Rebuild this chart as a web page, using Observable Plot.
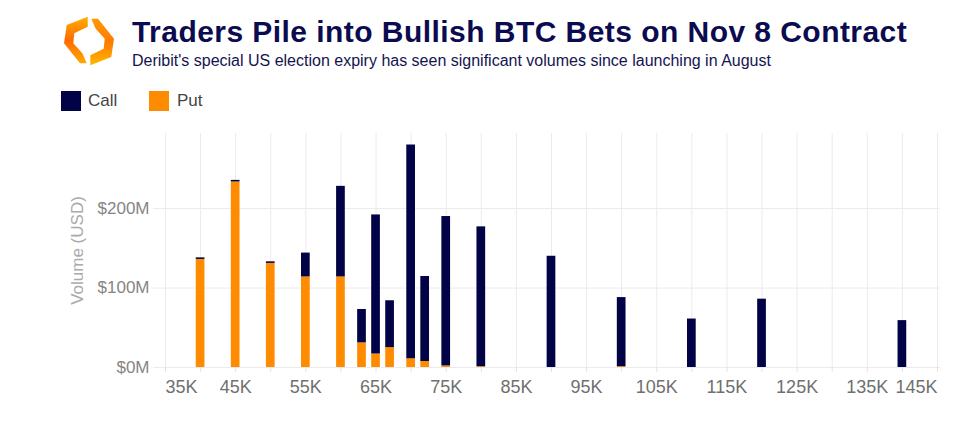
<!DOCTYPE html>
<html>
<head>
<meta charset="utf-8">
<script src="https://cdn.jsdelivr.net/npm/d3@7"></script>
<script src="https://cdn.jsdelivr.net/npm/@observablehq/plot@0.6"></script>
<style>
  body { margin: 0; background: #fff; font-family: "Liberation Sans", Arial, Helvetica, sans-serif; width: 967px; height: 422px; position: relative; overflow: hidden; }
  #logo { position: absolute; left: 0; top: 0; }
  #title { position: absolute; left: 132px; top: 17px; font-size: 30px; font-weight: bold; color: #0b0b4f; letter-spacing: 0.45px; white-space: nowrap; line-height: 1; }
  #subtitle { position: absolute; left: 132px; top: 53px; font-size: 16px; color: #14144f; white-space: nowrap; line-height: 1; }
  .sw { position: absolute; top: 91px; width: 20px; height: 20px; }
  .lt { position: absolute; top: 92px; font-size: 17px; color: #444; line-height: 1; }
  #chart { position: absolute; left: 0; top: 118px; }
</style>
</head>
<body>
<svg id="logo" width="130" height="80" viewBox="0 0 130 80">
  <defs>
    <linearGradient id="gl" x1="0" y1="0" x2="0" y2="1">
      <stop offset="0" stop-color="#ffb000"/>
      <stop offset="0.5" stop-color="#ff6a00"/>
      <stop offset="1" stop-color="#ffa800"/>
    </linearGradient>
    <linearGradient id="gr" x1="0" y1="0" x2="0" y2="1">
      <stop offset="0" stop-color="#ff9a00"/>
      <stop offset="0.5" stop-color="#ff7a00"/>
      <stop offset="1" stop-color="#ffb800"/>
    </linearGradient>
  </defs>
  <polygon fill="url(#gl)" points="87.7,16.7 66.7,25 64,43.3 80,63.3 86.7,63.3 82.3,53.3 73.3,43.3 74.3,33.3 87.7,26.7"/>
  <polygon fill="url(#gr)" points="90.3,65.3 111.3,57 114,38.7 98,18.7 91.3,18.7 95.7,28.7 104.7,38.7 103.7,48.7 90.3,55.3"/>
</svg>
<div id="title">Traders Pile into Bullish BTC Bets on Nov 8 Contract</div>
<div id="subtitle">Deribit's special US election expiry has seen significant volumes since launching in August</div>
<div class="sw" style="left:61px;background:#020246"></div>
<div class="lt" style="left:88px">Call</div>
<div class="sw" style="left:149px;background:#ff8c00"></div>
<div class="lt" style="left:177px">Put</div>
<div id="chart"></div>
<script>
// Strike prices (thousands of USD)
const strikes = [40, 45, 50, 55, 60, 63, 65, 67, 70, 72, 75, 80, 90, 100, 110, 120, 140];
// Volumes (millions of USD)
const putVolumes  = [136, 233.5, 131, 114, 114, 31, 17, 25, 11, 7.5, 2, 1, 0, 1, 0, 0, 0];
const callVolumes = [2, 2, 2, 30, 114, 42, 175, 59, 269, 107, 188, 176, 140, 87, 61, 86, 59];
const seriesNames = ["Call", "Put"];
const seriesColors = ["#020246", "#ff8c00"];
// Axis ticks
const xTicks = [35, 40, 45, 50, 55, 60, 65, 70, 75, 80, 85, 90, 95, 100, 105, 110, 115, 120, 125, 130, 135, 140, 145];
const xLabelsFirst = [35];
const xLabelsMid = [45, 55, 65, 75, 85, 95, 105, 115, 125, 135];
const xLabelsLast = [145];
const yTicks = [0, 100, 200];
const yTitle = ["Volume (USD)"];

const rows = [];
strikes.forEach((s, i) => {
  rows.push({strike: s, type: "Put", value: putVolumes[i]});
  rows.push({strike: s, type: "Call", value: callVolumes[i]});
});

const halfWidth = 0.62;
const labelStyle = {x: d => d, text: d => `${d}K`, frameAnchor: "bottom", lineAnchor: "top", dy: 13, fontSize: 18, fill: "#707070"};

const chart = Plot.plot({
  width: 967,
  height: 302,
  marginLeft: 153,
  marginRight: 27,
  marginTop: 15,
  marginBottom: 53,
  style: {fontFamily: '"Liberation Sans", Arial, sans-serif', background: "transparent"},
  x: {type: "linear", domain: [33.29, 145.43]},
  y: {domain: [0, 294.5]},
  color: {domain: seriesNames, range: seriesColors},
  marks: [
    Plot.gridX(xTicks, {stroke: "#ebebeb", strokeOpacity: 1}),
    Plot.gridY(yTicks, {stroke: "#ebebeb", strokeOpacity: 1}),
    Plot.axisX(xTicks, {tickSize: 5, stroke: "#e4e4e4", fill: "none", label: null}),
    Plot.axisY(yTicks, {tickSize: 0, tickPadding: 4, tickFormat: d => `$${d}M`, fontSize: 17, fill: "#858585", label: null}),
    Plot.text(xLabelsFirst, {...labelStyle, textAnchor: "start"}),
    Plot.text(xLabelsMid, {...labelStyle}),
    Plot.text(xLabelsLast, {...labelStyle, textAnchor: "end"}),
    Plot.text(yTitle, {text: d => d, frameAnchor: "left", textAnchor: "middle", lineAnchor: "middle", dx: -76, rotate: -90, fontSize: 17, fill: "#aaaaaa"}),
    Plot.rectY(rows, {
      x1: d => d.strike - halfWidth,
      x2: d => d.strike + halfWidth,
      y: "value",
      fill: "type"
    })
  ]
});
document.getElementById("chart").appendChild(chart);
</script>
</body>
</html>
